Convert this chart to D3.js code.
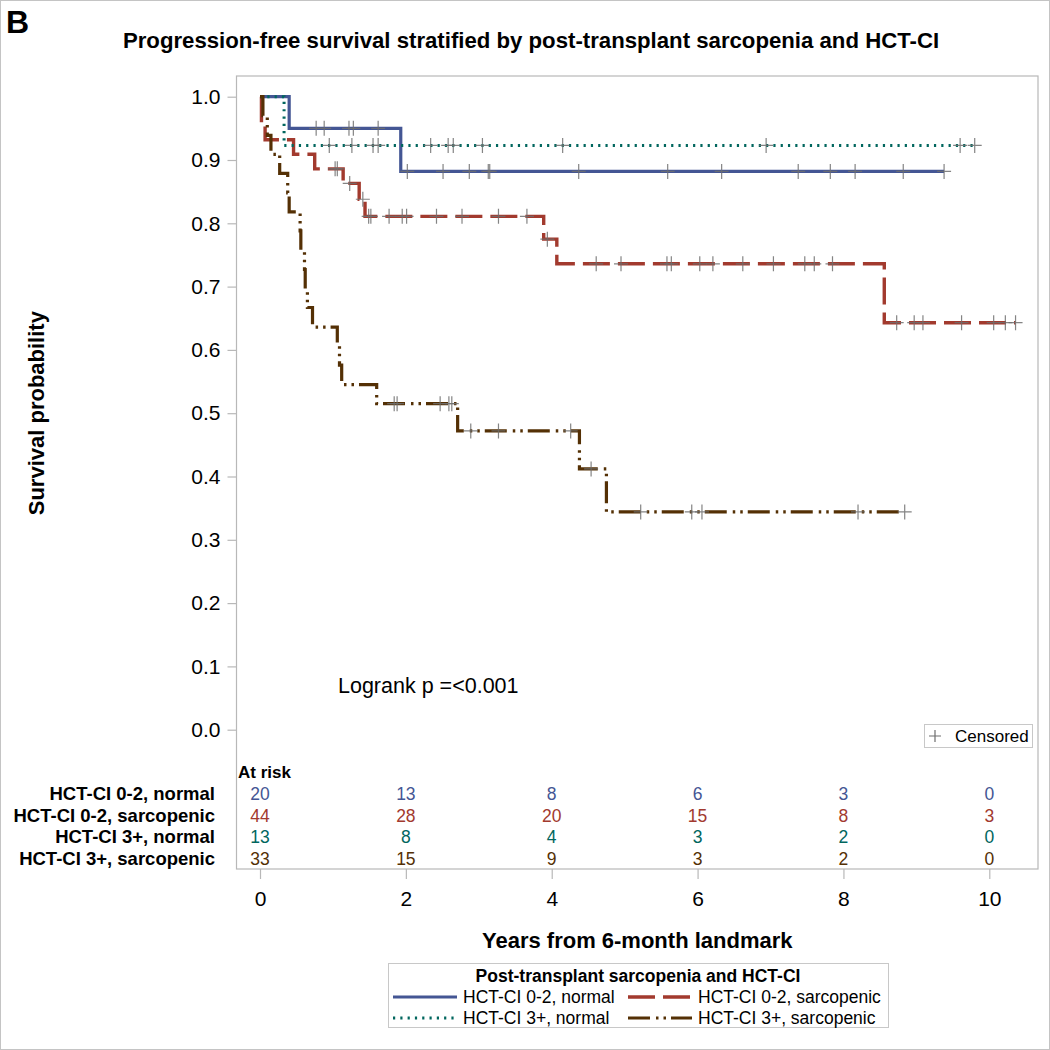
<!DOCTYPE html>
<html>
<head>
<meta charset="utf-8">
<script src="https://cdn.jsdelivr.net/npm/d3@7"></script>
<style>
  html, body { margin: 0; padding: 0; background: #fff; }
  svg { display: block; font-family: "Liberation Sans", Arial, sans-serif; }
</style>
</head>
<body>
<svg id="chart" width="1050" height="1050"></svg>
<script>
// ---------------- DATA ----------------
const groupNames = ["HCT-CI 0-2, normal", "HCT-CI 0-2, sarcopenic", "HCT-CI 3+, normal", "HCT-CI 3+, sarcopenic"];
const groupColors = ["#445694", "#A23A2E", "#01665E", "#543005"];

const xTickValues = [0, 2, 4, 6, 8, 10];
const yTickValues = [0, 0.1, 0.2, 0.3, 0.4, 0.5, 0.6, 0.7, 0.8, 0.9, 1.0];

// HCT-CI 0-2, normal
const normLowTimes = [0, 0.40, 1.93];
const normLowSurv  = [1.0, 0.950, 0.882];
const normLowEnd   = 9.38;
const normLowCens  = [0.77, 0.88, 1.22, 1.28, 1.62, 2.02, 2.51, 2.87, 3.13, 3.15, 4.37, 5.59, 6.33, 7.38, 7.82, 8.16, 8.82, 9.38];

// HCT-CI 0-2, sarcopenic
const sarcLowTimes = [0, 0.02, 0.07, 0.46, 0.75, 1.14, 1.36, 1.44, 3.89, 4.07, 8.56];
const sarcLowSurv  = [1.0, 0.955, 0.932, 0.909, 0.886, 0.863, 0.838, 0.811, 0.775, 0.736, 0.643];
const sarcLowEnd   = 10.36;
const sarcLowCens  = [1.03, 1.06, 1.23, 1.41, 1.49, 1.52, 1.77, 1.95, 2.01, 2.42, 2.77, 3.27, 3.66, 3.94,
                      4.61, 4.95, 5.58, 5.64, 6.03, 6.21, 6.62, 7.04, 7.47, 7.60, 7.85,
                      8.73, 8.97, 9.09, 9.62, 10.06, 10.22, 10.36];

// HCT-CI 3+, normal
const normHighTimes = [0, 0.33];
const normHighSurv  = [1.0, 0.923];
const normHighEnd   = 9.80;
const normHighCens  = [0.95, 1.26, 1.55, 1.62, 2.34, 2.58, 2.65, 3.05, 4.15, 6.94, 9.60, 9.80];

// HCT-CI 3+, sarcopenic
const sarcHighTimes = [0, 0.04, 0.10, 0.15, 0.27, 0.38, 0.40, 0.55, 0.56, 0.61, 0.62, 0.65, 0.72, 1.06, 1.09, 1.12, 1.60, 2.71, 4.38, 4.75];
const sarcHighSurv  = [1.0, 0.970, 0.939, 0.909, 0.879, 0.848, 0.818, 0.788, 0.758, 0.727, 0.697, 0.667, 0.636, 0.606, 0.576, 0.545, 0.515, 0.472, 0.412, 0.344];
const sarcHighEnd   = 8.84;
const sarcHighCens  = [1.84, 1.88, 2.47, 2.59, 2.63, 2.89, 3.27, 4.26, 4.54, 5.22, 5.92, 6.06, 8.20, 8.84];

// Number at risk at x ticks
const atRiskNormLow  = [20, 13, 8, 6, 3, 0];
const atRiskSarcLow  = [44, 28, 20, 15, 8, 3];
const atRiskNormHigh = [13, 8, 4, 3, 2, 0];
const atRiskSarcHigh = [33, 15, 9, 3, 2, 0];

const pValueText = "Logrank p =<0.001";

// ---------------- BUILD ----------------
const series = [
  { name: groupNames[0], color: groupColors[0], times: normLowTimes,  surv: normLowSurv,  end: normLowEnd,  cens: normLowCens,  risk: atRiskNormLow,  dash: null,                 width: 3.2 },
  { name: groupNames[1], color: groupColors[1], times: sarcLowTimes,  surv: sarcLowSurv,  end: sarcLowEnd,  cens: sarcLowCens,  risk: atRiskSarcLow,  dash: "27,8",               width: 3.4 },
  { name: groupNames[2], color: groupColors[2], times: normHighTimes, surv: normHighSurv, end: normHighEnd, cens: normHighCens, risk: atRiskNormHigh, dash: "2.2,5.1",            width: 3.0 },
  { name: groupNames[3], color: groupColors[3], times: sarcHighTimes, surv: sarcHighSurv, end: sarcHighEnd, cens: sarcHighCens, risk: atRiskSarcHigh, dash: "22,6,2.5,5,2.5,5",   width: 3.2 }
];

const svg = d3.select("#chart");
const W = 1050, H = 1050;
const frame = { left: 236.5, right: 1038, top: 76, bottom: 869 };

const x = d3.scaleLinear().domain([0, 10]).range([260, 989.3]);
const y = d3.scaleLinear().domain([0, 1]).range([729.7, 96.7]);

// outer border
svg.append("rect").attr("x", 0.5).attr("y", 0.5).attr("width", W - 1).attr("height", H - 1)
  .attr("fill", "#fff").attr("stroke", "#c4c4c4").attr("stroke-width", 1);

// panel letter
svg.append("text").attr("x", 6).attr("y", 33).attr("font-size", 32).attr("font-weight", "bold").text("B");

// title
svg.append("text").attr("x", 531).attr("y", 48).attr("text-anchor", "middle")
  .attr("font-size", 22.2).attr("font-weight", "bold")
  .text("Progression-free survival stratified by post-transplant sarcopenia and HCT-CI");

// frame
svg.append("rect").attr("x", frame.left).attr("y", frame.top)
  .attr("width", frame.right - frame.left).attr("height", frame.bottom - frame.top)
  .attr("fill", "none").attr("stroke", "#b8b8b8").attr("stroke-width", 1.2);

// y axis
const yAxis = d3.axisLeft(y).tickValues(yTickValues).tickFormat(d3.format(".1f")).tickSize(9).tickPadding(7);
const gy = svg.append("g").attr("transform", `translate(${frame.left},0)`).call(yAxis);
gy.select(".domain").remove();
gy.selectAll(".tick line").attr("stroke", "#b8b8b8").attr("stroke-width", 1.2);
gy.selectAll(".tick text").attr("font-size", 21).attr("font-family", "Liberation Sans, Arial, sans-serif").attr("fill", "#000");

// x axis
const xAxis = d3.axisBottom(x).tickValues(xTickValues).tickFormat(d3.format("d")).tickSize(10).tickPadding(12);
const gx = svg.append("g").attr("transform", `translate(0,${frame.bottom})`).call(xAxis);
gx.select(".domain").remove();
gx.selectAll(".tick line").attr("stroke", "#b8b8b8").attr("stroke-width", 1.2);
gx.selectAll(".tick text").attr("font-size", 21).attr("font-family", "Liberation Sans, Arial, sans-serif").attr("fill", "#000");

// axis labels
svg.append("text").attr("transform", `translate(44,${(y(0) + y(1)) / 2}) rotate(-90)`)
  .attr("text-anchor", "middle").attr("font-size", 22).attr("font-weight", "bold").text("Survival probability");
svg.append("text").attr("x", (frame.left + frame.right) / 2).attr("y", 948)
  .attr("text-anchor", "middle").attr("font-size", 22).attr("font-weight", "bold").text("Years from 6-month landmark");

// step curves
const line = d3.line().x(d => x(d[0])).y(d => y(d[1])).curve(d3.curveStepAfter);
function survAt(s, t) {
  let v = s.surv[0];
  for (let i = 0; i < s.times.length; i++) if (s.times[i] <= t) v = s.surv[i];
  return v;
}
const curveG = svg.append("g");
series.forEach(s => {
  const pts = s.times.map((t, i) => [t, s.surv[i]]);
  pts.push([s.end, s.surv[s.surv.length - 1]]);
  curveG.append("path").attr("d", line(pts)).attr("fill", "none")
    .attr("stroke", s.color).attr("stroke-width", s.width)
    .attr("stroke-dasharray", s.dash).attr("stroke-linecap", "butt").attr("stroke-linejoin", "miter");
});

// censor marks
const censG = svg.append("g").attr("stroke", "#6e6e6e").attr("stroke-width", 1.2).attr("stroke-opacity", 0.85);
series.forEach(s => {
  s.cens.forEach(t => {
    const cx = x(t), cy = y(survAt(s, t));
    censG.append("path").attr("d", `M${cx - 7},${cy}H${cx + 7}M${cx},${cy - 7.5}V${cy + 7.5}`);
  });
});

// p-value
svg.append("text").attr("x", 338).attr("y", 693).attr("font-size", 21.5).text(pValueText);

// censored legend
svg.append("rect").attr("x", 924.5).attr("y", 724.5).attr("width", 108).attr("height", 23)
  .attr("fill", "#fff").attr("stroke", "#c8c8c8");
svg.append("path").attr("d", "M929,736H941M935,730V742").attr("stroke", "#6e6e6e").attr("stroke-width", 1.2);
svg.append("text").attr("x", 955).attr("y", 742).attr("font-size", 17).text("Censored");

// at-risk table
svg.append("text").attr("x", 238).attr("y", 778).attr("font-size", 17).attr("font-weight", "bold").text("At risk");
const rowY = [800, 821.5, 843, 864.5];
series.forEach((s, i) => {
  svg.append("text").attr("x", 215).attr("y", rowY[i]).attr("text-anchor", "end")
    .attr("font-size", 18.5).attr("font-weight", "bold").text(s.name);
  svg.append("g").selectAll("text").data(s.risk).join("text")
    .attr("x", (d, j) => x(xTickValues[j])).attr("y", rowY[i]).attr("text-anchor", "middle")
    .attr("font-size", 17.5).attr("fill", s.color).text(d => d);
});

// bottom legend
const lg = svg.append("g");
lg.append("rect").attr("x", 388.5).attr("y", 963.5).attr("width", 500).attr("height", 64)
  .attr("fill", "#fff").attr("stroke", "#c8c8c8");
lg.append("text").attr("x", 638).attr("y", 982).attr("text-anchor", "middle")
  .attr("font-size", 17.5).attr("font-weight", "bold").text("Post-transplant sarcopenia and HCT-CI");
const legPos = [[393, 997], [628, 997], [393, 1018], [628, 1018]];
series.forEach((s, i) => {
  const [lx, ly] = legPos[i];
  lg.append("line").attr("x1", lx).attr("x2", lx + 64).attr("y1", ly).attr("y2", ly)
    .attr("stroke", s.color).attr("stroke-width", s.width).attr("stroke-dasharray", s.dash);
  lg.append("text").attr("x", lx + 70).attr("y", ly + 6).attr("font-size", 17.5).text(s.name);
});
</script>
</body>
</html>
